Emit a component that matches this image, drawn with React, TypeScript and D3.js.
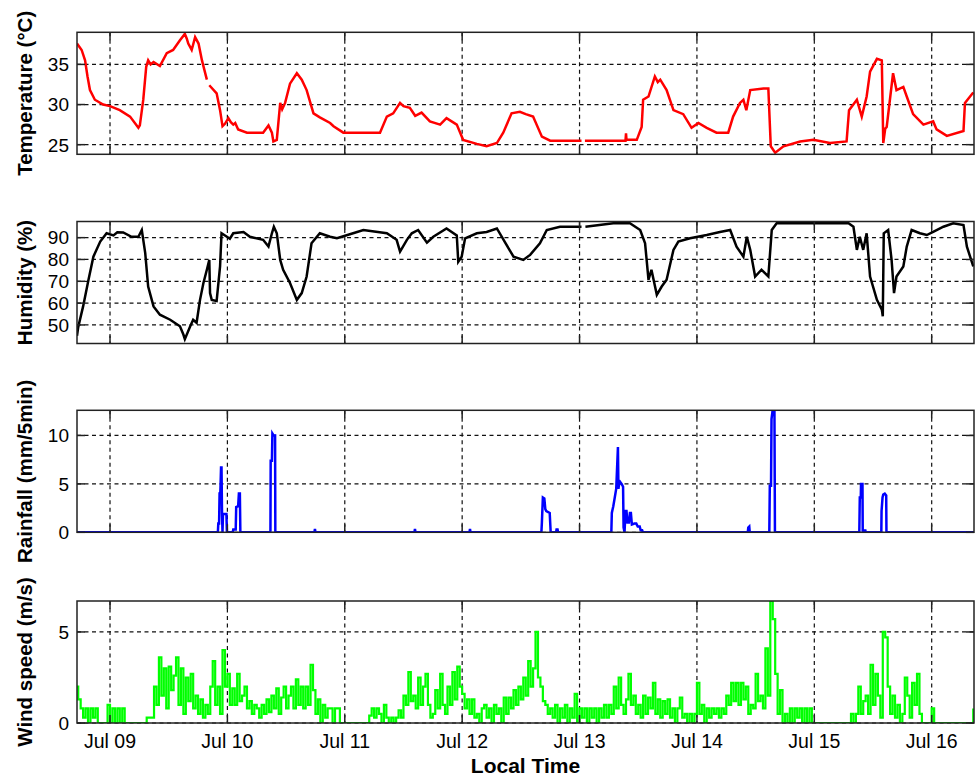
import React from "react";
import * as d3 from "d3";

// Hours are counted from Jul 09 00:00 local time.
const DAY0 = Date.UTC(2014, 6, 9);
const START_H = -6.75;
const END_H = 176.65;

// Air temperature (°C): [hour, value]; NaN marks missing records
const temperature: [number, number][] = [
  [-6.75, 37.6], [-5.8, 36.8], [-5.1, 35.5], [-4.6, 33.5], [-4.1, 31.8], [-3.1, 30.6], [-1.4, 30.0],
  [0, 29.8], [2.0, 29.3], [4.1, 28.5], [5.8, 27.1], [6.1, 27.4], [6.8, 30.6], [7.4, 34.7], [7.8, 35.5],
  [8.3, 35.0], [8.9, 35.3], [10.2, 34.8], [11.6, 36.4], [12.9, 36.8], [14.3, 38.0], [15.3, 38.8],
  [15.7, 38.2], [16.0, 37.6], [16.7, 36.8], [17.4, 38.4], [18.1, 37.6], [18.8, 35.5], [19.8, 33.1],
  [20.0, NaN], [20.3, 32.4], [21.8, 31.4], [22.5, 29.3], [23.0, 27.3], [23.5, 27.6], [24.2, 28.3],
  [24.7, 27.8], [25.2, 27.5], [25.6, 27.7], [26.2, 26.9], [28.0, 26.5], [31.3, 26.5], [32.4, 27.4],
  [33.1, 26.5], [33.4, 25.4], [34.1, 25.6], [34.8, 30.2], [35.2, 29.4], [35.8, 30.2], [36.8, 32.6],
  [38.2, 33.9], [39.2, 33.1], [40.2, 31.8], [41.6, 28.9], [42.9, 28.4], [45.0, 27.7], [45.7, 27.3],
  [47.7, 26.5], [55.2, 26.5], [56.6, 28.5], [57.9, 28.9], [59.3, 30.2], [60.0, 29.8], [61.3, 29.6],
  [62.4, 28.6], [63.7, 29.0], [65.4, 27.9], [67.5, 27.5], [68.8, 28.3], [70.9, 27.5], [72.2, 25.6],
  [75.0, 25.1], [77.0, 24.8], [79.1, 25.2], [80.4, 26.5], [82.1, 28.9], [83.8, 29.1], [85.0, 28.8],
  [86.5, 28.5], [88.3, 26.0], [90.0, 25.5], [96.4, 25.5], [96.7, NaN], [97.1, 25.5], [104.3, 25.5],
  [105.4, 25.5], [105.5, 26.4], [105.6, 25.6], [107.7, 25.6], [108.7, 27.2], [109.0, 30.6],
  [110.1, 31.0], [111.4, 33.5], [112.0, 32.8], [112.5, 33.1], [113.8, 31.8], [115.2, 29.3],
  [117.2, 28.8], [118.9, 27.1], [120.3, 27.7], [122.0, 27.1], [124.0, 26.5], [126.4, 26.5],
  [127.4, 28.5], [128.8, 30.2], [129.5, 30.6], [130.1, 29.3], [130.9, 31.8], [133.6, 32.0],
  [134.6, 32.0], [135.1, 24.8], [136.0, 24.0], [137.7, 24.8], [141.1, 25.4], [143.8, 25.6],
  [147.2, 25.2], [150.6, 25.4], [151.1, 29.3], [152.7, 30.6], [153.7, 28.5], [154.7, 31.0],
  [155.4, 34.1], [156.8, 35.7], [157.8, 35.5], [158.1, 25.2], [158.5, 27.0], [158.8, 27.2],
  [160.1, 33.9], [160.8, 31.8], [162.2, 32.2], [162.9, 31.0], [164.2, 28.8], [166.3, 27.5],
  [168.3, 27.9], [169.0, 26.9], [171.1, 26.1], [174.5, 26.7], [174.8, 30.2], [176.5, 31.5],
];

// Relative humidity (%): [hour, value]
const humidity: [number, number][] = [
  [-6.75, 45], [-6.5, 49], [-5.5, 58.5], [-4.4, 70.7], [-3.4, 81.3], [-2.0, 88.2], [-0.7, 92.0],
  [0.7, 91.0], [1.5, 92.5], [2.7, 92.4], [4.4, 90.4], [5.8, 90.4], [6.5, 93.5], [7.2, 82.9],
  [7.8, 67.6], [8.9, 58.5], [10.2, 54.7], [12.3, 52.4], [14.3, 49.4], [15.0, 45.6], [15.3, 43.5],
  [16.4, 49.4], [17.0, 52.4], [17.7, 51.0], [18.4, 61.5], [19.1, 69.2], [19.8, 75.3], [20.3, 79.8],
  [20.45, 64.6], [20.8, 61.5], [21.8, 61.0], [22.5, 76.8], [22.8, 92.0], [23.9, 90.4], [24.5, 89.5],
  [25.2, 92.0], [27.3, 92.6], [28.6, 90.4], [31.3, 89.0], [32.4, 85.9], [33.1, 92.0], [33.5, 95.0],
  [34.1, 92.0], [34.8, 79.8], [35.4, 75.3], [36.8, 69.2], [38.2, 61.5], [39.2, 64.6], [40.2, 72.2],
  [41.2, 87.4], [42.9, 92.0], [45.0, 90.4], [46.4, 89.7], [49.7, 92.0], [51.8, 93.5], [56.6, 92.0],
  [58.6, 89.0], [59.3, 83.6], [60.7, 89.0], [61.7, 92.0], [63.0, 93.5], [64.8, 87.7], [66.1, 90.4],
  [68.8, 94.2], [70.9, 91.0], [71.2, 79.0], [71.9, 81.3], [72.6, 89.7], [75.0, 92.0], [77.0, 92.6],
  [79.1, 94.2], [80.8, 87.7], [82.5, 81.3], [84.5, 79.8], [85.9, 82.1], [87.9, 87.4], [89.3, 93.5],
  [92.0, 95.0], [96.4, 95.0], [96.7, NaN], [97.2, 95.0], [102.9, 96.6], [106.3, 96.6], [108.4, 93.5],
  [109.4, 87.4], [110.1, 70.7], [110.7, 75.3], [111.8, 63.8], [112.8, 67.6], [113.8, 70.7],
  [115.2, 84.4], [116.2, 88.2], [118.6, 89.7], [122.0, 91.2], [124.7, 92.6], [126.8, 93.5],
  [128.1, 85.9], [129.5, 81.3], [130.2, 90.4], [130.9, 84.4], [131.9, 72.2], [133.2, 75.3],
  [134.6, 72.2], [135.3, 93.5], [136.3, 96.6], [151.0, 96.6], [152.0, 95.0], [152.7, 84.4],
  [153.3, 90.4], [154.0, 84.4], [154.7, 92.0], [155.4, 72.2], [156.8, 61.5], [157.8, 57.0],
  [158.0, 54.0], [158.2, 92.0], [159.1, 93.5], [159.8, 79.8], [160.3, 64.6], [160.8, 72.2],
  [162.2, 76.8], [162.9, 85.9], [163.9, 93.5], [165.6, 92.0], [167.0, 91.2], [168.3, 92.6],
  [170.4, 95.0], [172.4, 96.6], [174.5, 95.8], [175.2, 85.9], [176.5, 76.8],
];

// Rainfall (mm per 5 min): [hour, value]; dry spells are zero
const rainfall: [number, number][] = [
  [-6.75, 0],
  [22.05, 0], [22.14, 0.9], [22.3, 0.9], [22.4, 4.0], [22.55, 4.0], [22.7, 6.7], [22.8, 6.7],
  [22.9, 1.9], [23.0, 0], [23.1, 1.9], [23.8, 1.9], [23.9, 0],
  [25.1, 0], [25.2, 0.3], [25.7, 0.3], [25.8, 2.6], [26.2, 2.7], [26.35, 4.0], [26.55, 4.0], [26.65, 0],
  [32.8, 0], [32.85, 7.4], [33.1, 7.4], [33.2, 10.2], [33.45, 10.0], [33.75, 10.0], [33.8, 0],
  [41.8, 0], [41.9, 0.35], [42.0, 0],
  [62.25, 0], [62.35, 0.35], [62.45, 0],
  [73.5, 0], [73.6, 0.35], [73.7, 0],
  [88.2, 0], [88.3, 1.0], [88.5, 3.6], [88.8, 3.5], [89.0, 2.4], [89.2, 2.2], [89.9, 2.0], [90.1, 0],
  [91.2, 0], [91.3, 0.3], [91.5, 0.3], [91.6, 0],
  [102.5, 0], [102.6, 2.0], [102.9, 2.7], [103.2, 3.6], [103.5, 4.5], [103.85, 8.8], [103.95, 4.5],
  [104.1, 5.0], [104.3, 5.2], [104.6, 5.0], [104.9, 4.7], [105.0, 0.5], [105.2, 0], [105.4, 2.2],
  [105.6, 2.2], [105.8, 1.0], [106.1, 1.0], [106.3, 2.0], [106.5, 2.0], [106.7, 0.8], [107.2, 0.9],
  [107.6, 0.9], [107.9, 0.6], [108.3, 0.6], [108.5, 0.2], [108.8, 0.2], [108.95, 0],
  [130.4, 0], [130.5, 0.5], [130.7, 0.6], [130.8, 0],
  [134.8, 0], [134.9, 4.8], [135.15, 4.8], [135.25, 11.7], [135.45, 12.5], [135.85, 12.5], [135.95, 0],
  [153.2, 0], [153.3, 3.6], [153.5, 3.6], [153.55, 5.0], [153.85, 5.0], [153.9, 0],
  [154.3, 0], [154.4, 0.3], [154.5, 0],
  [157.7, 0], [157.75, 2.2], [157.95, 3.6], [158.1, 3.9], [158.4, 4.0], [158.7, 3.8], [158.75, 0],
  [176.65, 0],
];

// Wind speed (m/s), half-hourly values for each calendar day
const wind08 = [2.0, 1.3, 0.8, 0.3, 0.8, 0, 0.8, 0.3, 0.8, 0, 0, 0, 0, 1.0]; // from 17:00
const wind09 = [
  0, 0.8, 0, 0.8, 0, 0.8, 0, 0, 0, 0, 0, 0, 0, 0, 0, 0.3, 0.3, 0.3, 2.0, 1.0, 3.6, 1.5, 3.0, 0.8,
  3.1, 1.8, 2.6, 3.6, 1.0, 3.0, 0.5, 2.5, 1.2, 2.7, 0.8, 1.5, 0.5, 1.3, 0.3, 1.0, 0.5, 2.0, 3.4, 1.0,
  2.0, 0.5, 4.0, 2.0,
];
const wind10 = [
  2.7, 1.0, 1.9, 1.0, 2.7, 1.2, 1.5, 2.0, 0.8, 1.2, 0.5, 1.0, 0.8, 0.3, 1.0, 0.5, 1.3, 0.6, 1.5, 0.8,
  1.9, 0.5, 1.4, 2.0, 0.8, 1.5, 2.0, 0.8, 2.4, 1.0, 2.0, 0.8, 2.0, 1.0, 3.2, 1.8, 0.5, 1.3, 0, 1.0,
  0.3, 0.8, 0.8, 0, 0.8, 0.8, 0, 0,
];
const wind11 = [
  0, 0, 0, 0, 0, 0, 0, 0, 0, 0, 0.4, 0.8, 0.3, 0.8, 0.5, 0, 1.0, 0.3, 0, 0.3, 0, 0.3, 0.7, 0.3,
  1.5, 1.0, 2.8, 1.2, 1.5, 0.8, 2.5, 1.0, 2.0, 2.7, 1.0, 0.3, 0.5, 1.8, 0.8, 2.7, 1.0, 0.5, 2.0, 1.0,
  2.8, 1.3, 3.1, 2.0,
];
const wind12 = [
  1.6, 0.8, 1.3, 0.5, 1.3, 0.3, 0.5, 0, 0.8, 1.0, 0.3, 0.8, 0, 1.0, 0.5, 0.8, 0, 1.4, 0.5, 1.4,
  0.8, 1.8, 1.0, 2.0, 1.3, 2.5, 1.5, 3.4, 2.0, 3.0, 5.0, 2.5, 2.0, 1.2, 1.0, 0.5, 0.8, 0.3, 1.0, 0,
  0.8, 0.3, 1.0, 0, 0.8, 0.3, 1.6, 0,
];
const wind13 = [
  0.8, 0.3, 0.8, 0, 0.8, 0.3, 0.8, 0, 0.8, 0.3, 1.0, 0.3, 1.0, 0.5, 2.0, 0.8, 2.5, 1.0, 0.5, 1.3,
  2.7, 1.0, 1.5, 0.5, 1.0, 0.3, 1.5, 0.5, 1.4, 0.8, 2.2, 0.5, 1.3, 0.3, 1.2, 0.5, 1.3, 0.3, 0.8, 0,
  0.8, 1.4, 0.3, 0.5, 0, 0.5, 0, 0.5,
];
const wind14 = [
  2.2, 0.5, 1.0, 0, 0.8, 0.3, 0.8, 0.5, 0.8, 0.3, 0.8, 0.5, 1.5, 1.0, 2.2, 1.2, 2.2, 1.0, 2.2, 1.3,
  2.0, 0.5, 1.0, 0.8, 2.7, 1.2, 1.5, 0.8, 4.1, 1.5, 6.7, 5.7, 2.7, 0.5, 1.8, 0, 0.5, 0, 0.8, 0,
  0.8, 0.3, 0.8, 0, 0.8, 0, 0.8, 0,
];
const wind15 = [
  0, 0, 0, 0, 0, 0, 0, 0, 0, 0, 0, 0, 0, 0, 0, 0.5, 0, 0.5, 2.0, 0.5, 1.2, 1.5, 0.5, 3.2, 1.0,
  2.7, 1.5, 0.3, 5.0, 4.7, 2.0, 0.5, 1.5, 0.3, 1.0, 0, 0.5, 2.5, 1.5, 0.3, 2.2, 1.0, 2.7, 0.5, 0, 0,
  0, 0,
];
const wind16 = [0.8, 0, 0, 0, 0, 0, 0, 0, 0, 0, 0, 0, 0, 0, 0, 0, 0, 0.8];

const windDays: [number, number[]][] = [
  [-7, wind08], [0, wind09], [24, wind10], [48, wind11], [72, wind12],
  [96, wind13], [120, wind14], [144, wind15], [168, wind16],
];
const windSpeed: [number, number][] = windDays.flatMap(([h0, vals]) =>
  vals.map((v, i) => [h0 + i * 0.5, v] as [number, number])
);

const temperatureTicks = [25, 30, 35];
const humidityTicks = [50, 60, 70, 80, 90];
const rainfallTicks = [0, 5, 10];
const windTicks = [0, 5];

const W = 975;
const H = 776;
const LEFT = 77;
const RIGHT = 974;
const PANEL_H = 122;
const FONT = "'Liberation Sans', Arial, Helvetica, sans-serif";

const toDate = (h: number) => new Date(DAY0 + h * 3600e3);

type Panel = {
  id: string;
  label: string;
  data: [number, number][];
  color: string;
  domain: [number, number];
  ticks: number[];
  top: number;
  step?: boolean;
  width: number;
};

const panels: Panel[] = [
  { id: "t", label: "Temperature (°C)", data: temperature, color: "#ff0000", domain: [23.8, 39], ticks: temperatureTicks, top: 32.3, width: 2.5 },
  { id: "h", label: "Humidity (%)", data: humidity, color: "#000000", domain: [41.5, 97.4], ticks: humidityTicks, top: 221.5, width: 2.5 },
  { id: "r", label: "Rainfall (mm/5min)", data: rainfall, color: "#0000ff", domain: [0, 12.6], ticks: rainfallTicks, top: 410.3, width: 2.5 },
  { id: "w", label: "Wind speed (m/s)", data: windSpeed, color: "#00ff00", domain: [0, 6.7], ticks: windTicks, top: 601, step: true, width: 2.2 },
];

export default function App() {
  const x = d3.scaleUtc().domain([toDate(START_H), toDate(END_H)]).range([LEFT, RIGHT]);
  const days = d3.utcDay.range(toDate(0), toDate(END_H));
  const fmt = d3.utcFormat("%b %d");
  const TICK = 8;

  return (
    <svg
      width={W}
      height={H}
      viewBox={`0 0 ${W} ${H}`}
      style={{ position: "absolute", left: 0, top: 0, background: "#fff" }}
      fontFamily={FONT}
    >
      <rect width={W} height={H} fill="#fff" />
      {panels.map((p) => {
        const top = p.top;
        const bottom = top + PANEL_H;
        const y = d3.scaleLinear().domain(p.domain).range([bottom, top]);
        const line = d3
          .line<[number, number]>()
          .defined((d) => !Number.isNaN(d[1]))
          .x((d) => x(toDate(d[0])))
          .y((d) => y(d[1]))
          .curve(p.step ? d3.curveStepAfter : d3.curveLinear);
        const cy = (top + bottom) / 2;
        return (
          <g key={p.id}>
            <defs>
              <clipPath id={`clip-${p.id}`}>
                <rect x={LEFT} y={top} width={RIGHT - LEFT} height={PANEL_H} />
              </clipPath>
            </defs>
            {/* grid */}
            <g stroke="#111" strokeWidth={1.2} strokeDasharray="4,3.5">
              {days.map((d) => (
                <line key={+d} x1={x(d)} x2={x(d)} y1={top} y2={bottom} />
              ))}
              {p.ticks.map((t) => (
                <line key={t} x1={LEFT} x2={RIGHT} y1={y(t)} y2={y(t)} />
              ))}
            </g>
            <path
              d={line(p.data) ?? ""}
              fill="none"
              stroke={p.color}
              strokeWidth={p.width}
              strokeLinejoin="miter"
              clipPath={`url(#clip-${p.id})`}
            />
            {/* box and inward ticks */}
            <rect x={LEFT} y={top} width={RIGHT - LEFT} height={PANEL_H} fill="none" stroke="#222" strokeWidth={1.5} />
            <g stroke="#222" strokeWidth={1.5}>
              {days.map((d) => (
                <g key={+d}>
                  <line x1={x(d)} x2={x(d)} y1={top} y2={top + TICK} />
                  <line x1={x(d)} x2={x(d)} y1={bottom} y2={bottom - TICK} />
                </g>
              ))}
              {p.ticks.map((t) => (
                <g key={t}>
                  <line x1={LEFT} x2={LEFT + TICK} y1={y(t)} y2={y(t)} />
                  <line x1={RIGHT} x2={RIGHT - TICK} y1={y(t)} y2={y(t)} />
                </g>
              ))}
            </g>
            {p.ticks.map((t) => (
              <text key={t} x={LEFT - 8} y={y(t)} dy="0.36em" textAnchor="end" fontSize={19} fill="#000">
                {t}
              </text>
            ))}
            <text
              transform={`translate(${25},${cy}) rotate(-90)`}
              textAnchor="middle"
              dy="0.36em"
              fontSize={20.5}
              fontWeight="bold"
              fill="#000"
            >
              {p.label}
            </text>
          </g>
        );
      })}
      {days.map((d) => (
        <text key={+d} x={x(d)} y={748} textAnchor="middle" fontSize={19.5} fill="#000">
          {fmt(d)}
        </text>
      ))}
      <text x={(LEFT + RIGHT) / 2} y={773} textAnchor="middle" fontSize={21} fontWeight="bold" fill="#000">
        Local Time
      </text>
    </svg>
  );
}
